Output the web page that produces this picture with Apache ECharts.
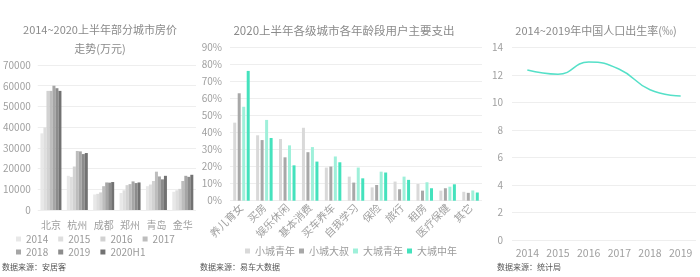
<!DOCTYPE html>
<html>
<head>
<meta charset="utf-8">
<script src="https://cdn.jsdelivr.net/npm/echarts@6/dist/echarts.min.js"></script>
<style>
html,body{margin:0;padding:0;background:#fff;}
#main{width:700px;height:277px;}
</style>
</head>
<body>
<div id="main"></div>
<script>
// ---- Chart 1: house prices ----
var cities = ['北京', '杭州', '成都', '郑州', '青岛', '金华'];
var yearNames = ['2014', '2015', '2016', '2017', '2018', '2019', '2020H1'];
var price2014 = [37000, 16500, 7500, 8200, 11500, 8800];
var price2015 = [39800, 16000, 7800, 9500, 12300, 9500];
var price2016 = [57500, 21000, 8500, 12000, 14000, 10200];
var price2017 = [57500, 28500, 11500, 12500, 18500, 14000];
var price2018 = [60000, 28300, 13300, 13800, 16200, 16500];
var price2019 = [58800, 27000, 13200, 13000, 14800, 16000];
var price2020H1 = [57500, 27500, 13500, 13300, 16500, 17000];
var yearColors = ['#e8e8e8', '#dedede', '#d2d2d2', '#bdbdbd', '#a6a6a6', '#8c8c8c', '#727272'];

// ---- Chart 2: spending ----
var spendCats = ['养儿育女', '买房', '娱乐休闲', '基本消费', '买车养车', '自我学习', '保险', '旅行', '租房', '医疗保健', '其它'];
var groupNames = ['小城青年', '小城大叔', '大城青年', '大城中年'];
var smallYoung = [45.7, 38.3, 36.1, 42.7, 19.4, 14.1, 7.8, 11.2, 9.8, 5.9, 5.2];
var smallUncle = [62.9, 35.5, 25.4, 28.4, 20.0, 10.6, 9.2, 6.7, 5.9, 7.3, 4.6];
var bigYoung = [55.0, 47.3, 32.4, 31.4, 25.9, 19.4, 17.0, 14.1, 10.8, 8.2, 6.0];
var bigMiddle = [76.0, 36.7, 20.7, 22.9, 22.5, 13.1, 16.5, 12.2, 7.3, 9.6, 4.8];
var groupColors = ['#d9d9d9', '#a8a8a8', '#9ff0da', '#44e2bd'];

// ---- Chart 3: birth rate ----
var birthYears = ['2014', '2015', '2016', '2017', '2018', '2019'];
var birthRate = [12.37, 12.07, 12.95, 12.43, 10.94, 10.48];

var FONT = '"Noto Sans CJK SC", "Noto Sans", sans-serif';
var chart = echarts.init(document.getElementById('main'), null, {renderer: 'canvas'});

var priceData = [price2014, price2015, price2016, price2017, price2018, price2019, price2020H1];
var spendData = [smallYoung, smallUncle, bigYoung, bigMiddle];

var series = [];
yearNames.forEach(function (n, i) {
  series.push({
    name: n, type: 'bar', xAxisIndex: 0, yAxisIndex: 0,
    data: priceData[i], barWidth: 3, barGap: '0%',
    itemStyle: {color: yearColors[i]}
  });
});
groupNames.forEach(function (n, i) {
  series.push({
    name: n, type: 'bar', xAxisIndex: 1, yAxisIndex: 1,
    data: spendData[i], barWidth: 3, barGap: '50%',
    itemStyle: {color: groupColors[i]}
  });
});
series.push({
  name: '出生率', type: 'line', xAxisIndex: 2, yAxisIndex: 2,
  data: birthRate, smooth: true, symbol: 'none',
  lineStyle: {color: '#55e0c8', width: 1.5}
});

var axisLabelStyle = {color: '#a0a0a0', fontFamily: FONT};
var splitLine = {show: true, lineStyle: {color: '#eeeeee', width: 1}};

function txt(text, x, y, size, color, align) {
  return {
    type: 'text', x: x, y: y, silent: true,
    style: {text: text, fontSize: size, fill: color, fontFamily: FONT,
      align: align || 'center', verticalAlign: 'middle', lineHeight: 19}
  };
}

var legendText = {color: '#9a9a9a', fontSize: 10, fontFamily: FONT};

chart.setOption({
  animation: false,
  backgroundColor: '#ffffff',
  textStyle: {fontFamily: FONT},
  graphic: [
    txt('2014~2020上半年部分城市房价\n走势(万元)', 100, 39.5, 11, '#8a8a8a'),
    txt('2020上半年各级城市各年龄段用户主要支出', 344, 31, 11.5, '#8a8a8a'),
    txt('2014~2019年中国人口出生率(‰)', 596, 31, 11, '#8a8a8a'),
    txt('数据来源：安居客', 2, 267, 8, '#555555', 'left'),
    txt('数据来源：易车大数据', 200, 267, 8, '#555555', 'left'),
    txt('数据来源：统计局', 497, 267, 8, '#555555', 'left')
  ],
  legend: [
    {data: ['2014', '2015', '2016', '2017'], left: 16, top: 234, itemWidth: 5, itemHeight: 5,
      itemGap: 10, icon: 'rect', textStyle: legendText, padding: 0},
    {data: ['2018', '2019', '2020H1'], left: 16, top: 247, itemWidth: 5, itemHeight: 5,
      itemGap: 10, icon: 'rect', textStyle: legendText, padding: 0},
    {data: groupNames, left: 245, top: 246, itemWidth: 5, itemHeight: 5,
      itemGap: 4, icon: 'rect', textStyle: legendText, padding: 0}
  ],
  grid: [
    {left: 37, top: 65, width: 159, height: 145},
    {left: 230, top: 47, width: 252, height: 153.7},
    {left: 512, top: 47.7, width: 184, height: 192.3}
  ],
  xAxis: [
    {type: 'category', gridIndex: 0, data: cities,
      axisLine: {show: false}, axisTick: {show: false},
      axisLabel: Object.assign({fontSize: 10, margin: 10, interval: 0}, axisLabelStyle)},
    {type: 'category', gridIndex: 1, data: spendCats,
      axisLine: {show: false}, axisTick: {show: false},
      axisLabel: Object.assign({fontSize: 10.5, margin: 5, interval: 0, rotate: 45}, axisLabelStyle)},
    {type: 'category', gridIndex: 2, data: birthYears, boundaryGap: true,
      axisLine: {show: false}, axisTick: {show: false},
      axisLabel: Object.assign({fontSize: 10.5, margin: 8, interval: 0}, axisLabelStyle)}
  ],
  yAxis: [
    {type: 'value', gridIndex: 0, min: 0, max: 70000, interval: 10000,
      axisLine: {show: false}, axisTick: {show: false}, splitLine: splitLine,
      axisLabel: Object.assign({fontSize: 10, margin: 7, formatter: function (v) { return String(v); }}, axisLabelStyle)},
    {type: 'value', gridIndex: 1, min: 0, max: 90, interval: 10,
      axisLine: {show: false}, axisTick: {show: false}, splitLine: splitLine,
      axisLabel: Object.assign({fontSize: 10, margin: 8, formatter: '{value}%'}, axisLabelStyle)},
    {type: 'value', gridIndex: 2, min: 0, max: 14, interval: 2,
      axisLine: {show: false}, axisTick: {show: false}, splitLine: splitLine,
      axisLabel: Object.assign({fontSize: 10, margin: 9}, axisLabelStyle)}
  ],
  series: series
});
</script>
</body>
</html>
